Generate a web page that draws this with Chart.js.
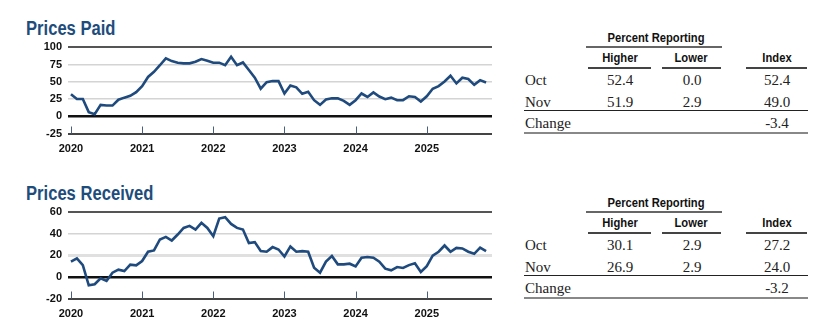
<!DOCTYPE html>
<html>
<head>
<meta charset="utf-8">
<script src="https://cdn.jsdelivr.net/npm/chart.js@4.4.1/dist/chart.umd.min.js"></script>
<style>
  body { margin: 0; width: 839px; height: 336px; background: #fff; position: relative; overflow: hidden; }
  .box { position: absolute; left: 0; width: 500px; height: 155px; }
  .title { position: absolute; left: 26px; font-family: "Liberation Sans", Arial, sans-serif; font-weight: bold;
           font-size: 20px; line-height: 20px; color: #1e4d7c; white-space: nowrap;
           transform: scaleX(0.83); transform-origin: left center; }
  .t { position: absolute; white-space: nowrap; transform: translate(-50%, -50%); }
  .hd { font-family: "Liberation Sans", Arial, sans-serif; font-weight: bold; font-size: 13.5px; color: #111;
        transform: translate(-50%, -50%) scaleX(0.83); }
  .num { font-family: "Liberation Serif", "Times New Roman", serif; font-size: 15px; color: #222; }
  .lab { transform: translate(0, -50%); }
  .rule { position: absolute; }
</style>
</head>
<body>
<div class="title" style="top:18px">Prices Paid</div>
<div class="title" style="top:183px">Prices Received</div>
<div class="box" style="top:0"><canvas id="paidChart"></canvas></div>
<div class="box" style="top:165px"><canvas id="recvChart"></canvas></div>

<script>
// monthly survey readings, Jan 2020 .. Nov 2025
const pricesPaid = [
  32, 25, 25, 6, 3, 16.5, 15.5, 15.5, 24, 27, 29.6, 35,
  43.7, 57, 64.5, 74, 84, 80, 77.7, 76.7, 76.7, 79, 83, 80.6,
  77.7, 77.7, 74, 86.4, 74, 78, 67, 56, 40, 49.5, 51, 51,
  33, 44.7, 42, 32.5, 35.4, 23.3, 16.5, 24.3, 26, 26, 22.3, 16.5,
  23.3, 33, 28, 34.5, 28.6, 24.8, 27, 23.3, 23.3, 29, 28, 21.4,
  29, 39.8, 43.7, 50.5, 58.7, 47.6, 55.8, 54, 45.6, 52.4, 49.0
];
const pricesReceived = [
  14.2, 17.2, 11, -7.7, -6.8, -1.2, -3.7, 4, 6.8, 5.5, 11.4, 10.8,
  14.8, 23.4, 24.6, 34.8, 37.2, 33.8, 39.4, 45.5, 47.4, 44, 50.2, 45.5,
  37.8, 54.2, 55.4, 49.2, 45.5, 44, 31.4, 32.3, 24, 23.4, 27.7, 25.5,
  19, 28.3, 23.4, 24, 23.4, 8.6, 4, 14.2, 19.4, 11.7, 11.7, 12.3,
  9.8, 17.8, 18.5, 17.8, 14.2, 7.7, 6.2, 9.2, 8.3, 11, 12.6, 4.6,
  10, 19.7, 23.4, 29.2, 23.4, 27, 26.5, 23.4, 21.5, 27.2, 24.0
];
const yearPos = [0, 12, 24, 36, 48, 60];
const yearLabels = ['2020', '2021', '2022', '2023', '2024', '2025'];

const tableRows = ['Oct', 'Nov'];
const paidHigher = ['52.4', '51.9'];
const paidLower = ['0.0', '2.9'];
const paidIndex = ['52.4', '49.0'];
const paidChange = '-3.4';
const recvHigher = ['30.1', '26.9'];
const recvLower = ['2.9', '2.9'];
const recvIndex = ['27.2', '24.0'];
const recvChange = '-3.2';

const lineColor = '#1f4a7d';

// short marks at each January on the bottom axis
const yearMarks = {
  id: 'yearMarks',
  afterDatasetsDraw(chart) {
    const ctx = chart.ctx;
    const area = chart.chartArea;
    ctx.save();
    ctx.strokeStyle = '#4a5f80';
    ctx.lineWidth = 1;
    yearPos.forEach(function(v) {
      const x = Math.round(chart.scales.x.getPixelForValue(v)) + 0.5;
      ctx.beginPath();
      ctx.moveTo(x, area.bottom - 7);
      ctx.lineTo(x, area.bottom);
      ctx.stroke();
    });
    ctx.restore();
  }
};

function makeChart(id, values, yMin, yMax, step, gridStyle) {
  const ctx = document.getElementById(id).getContext('2d');
  return new Chart(ctx, {
    type: 'line',
    data: {
      datasets: [{
        data: values.map(function(v, i) { return { x: i, y: v }; }),
        borderColor: lineColor,
        borderWidth: 2.6,
        pointRadius: 0,
        tension: 0,
        fill: false
      }]
    },
    options: {
      responsive: true,
      maintainAspectRatio: false,
      animation: false,
      layout: { padding: { left: 26, right: 8, top: 47.3, bottom: 0 } },
      plugins: {
        legend: { display: false },
        tooltip: { enabled: false }
      },
      scales: {
        x: {
          type: 'linear',
          min: -0.5,
          max: 71,
          afterBuildTicks: function(s) { s.ticks = yearPos.map(function(v) { return { value: v }; }); },
          afterFit: function(s) { s.height = 21.5; },
          grid: { display: false },
          border: { display: false },
          ticks: {
            autoSkip: false,
            maxRotation: 0,
            padding: 1,
            color: '#111',
            font: { family: 'Liberation Sans, Arial, sans-serif', size: 11, weight: 'bold' },
            callback: function(v) { return yearLabels[yearPos.indexOf(v)]; }
          }
        },
        y: {
          min: yMin,
          max: yMax,
          afterFit: function(s) { s.width = 42; },
          border: { display: false },
          grid: {
            drawTicks: false,
            color: function(c) { return gridStyle(c.tick.value)[0]; },
            lineWidth: function(c) { return gridStyle(c.tick.value)[1]; }
          },
          ticks: {
            stepSize: step,
            padding: 6,
            color: '#111',
            font: { family: 'Liberation Sans, Arial, sans-serif', size: 11, weight: 'bold' }
          }
        }
      }
    },
    plugins: [yearMarks]
  });
}

makeChart('paidChart', pricesPaid, -25, 100, 25, function(v) {
  if (v === 100) return ['#555', 2];
  if (v === 0) return ['#111', 2.5];
  if (v === -25) return ['#444', 2];
  return ['#d4d4d4', 1.5];
});

makeChart('recvChart', pricesReceived, -20, 60, 20, function(v) {
  if (v === 60) return ['#555', 2];
  if (v === 0) return ['#111', 2.5];
  if (v === -20) return ['#444', 2];
  if (v === 20) return ['#e0e0e0', 3];
  return ['#d4d4d4', 1.5];
});

function addText(text, cls, x, y) {
  const el = document.createElement('div');
  el.className = 't ' + cls;
  el.textContent = text;
  el.style.left = x + 'px';
  el.style.top = y + 'px';
  document.body.appendChild(el);
}

function addRule(x1, x2, y, h, color) {
  const el = document.createElement('div');
  el.className = 'rule';
  el.style.left = x1 + 'px';
  el.style.width = (x2 - x1) + 'px';
  el.style.top = (y - h / 2) + 'px';
  el.style.height = h + 'px';
  el.style.background = color;
  document.body.appendChild(el);
}

function drawTable(top, higher, lower, index, change) {
  addText('Percent Reporting', 'hd', 656, top + 37);
  addRule(586, 722, top + 47, 2, '#666');
  addText('Higher', 'hd', 620, top + 57);
  addText('Lower', 'hd', 691, top + 57);
  addText('Index', 'hd', 777, top + 57);
  addRule(588, 651, top + 68, 1.5, '#444');
  addRule(662, 721, top + 68, 1.5, '#444');
  addRule(746, 807, top + 68, 1.5, '#444');
  tableRows.forEach(function(r, i) {
    const y = top + 80 + i * 22;
    addText(r, 'num lab', 525, y);
    addText(higher[i], 'num', 620, y);
    addText(lower[i], 'num', 692, y);
    addText(index[i], 'num', 777, y);
  });
  addRule(524, 808, top + 110.7, 1.5, '#222');
  addText('Change', 'num lab', 525, top + 123);
  addText(change, 'num', 777, top + 123);
  addRule(524, 808, top + 133.3, 2, '#888');
}

drawTable(0, paidHigher, paidLower, paidIndex, paidChange);
drawTable(165, recvHigher, recvLower, recvIndex, recvChange);
</script>
</body>
</html>
